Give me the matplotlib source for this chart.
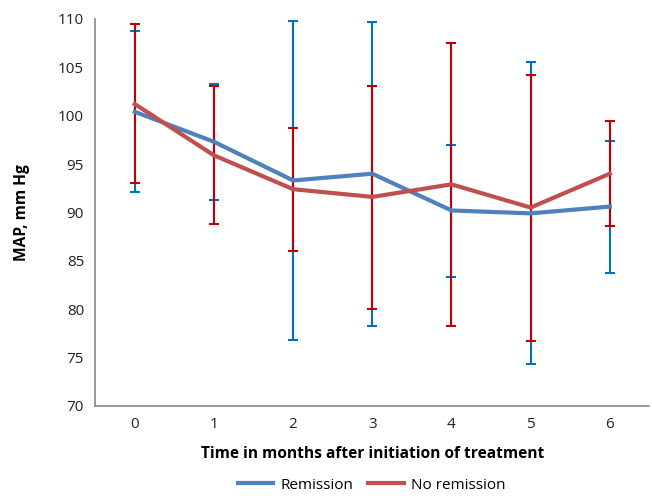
import numpy as np
import matplotlib
matplotlib.use('Agg')
import matplotlib.pyplot as plt

plt.rcParams['font.family'] = ['Open Sans', 'DejaVu Sans']

# months after start of treatment
months = [0, 1, 2, 3, 4, 5, 6]

# mean MAP and error bar ends
rem_mean = [100.4, 97.3, 93.3, 94.0, 90.2, 89.9, 90.6]
rem_top = [108.7, 103.3, 109.8, 109.7, 97.0, 105.5, 97.4]
rem_bot = [92.1, 91.3, 76.8, 78.3, 83.3, 74.3, 83.7]

norem_mean = [101.2, 95.9, 92.4, 91.6, 92.9, 90.5, 94.0]
norem_top = [109.5, 103.1, 98.7, 103.1, 107.5, 104.2, 99.4]
norem_bot = [93.0, 88.8, 86.0, 80.0, 78.3, 76.7, 88.6]

fig = plt.figure(figsize=(6.52, 4.98), dpi=100)
ax = fig.add_axes([0.146, 0.185, 0.85, 0.777])

x = np.array(months)
rm = np.array(rem_mean)
nm = np.array(norem_mean)

# error bars first, lines on top
ax.errorbar(x, rm, yerr=[rm - np.array(rem_bot), np.array(rem_top) - rm],
            fmt='none', ecolor='#0070C0', elinewidth=1.5, capsize=3.5, capthick=1.5, zorder=2)
ax.errorbar(x, nm, yerr=[nm - np.array(norem_bot), np.array(norem_top) - nm],
            fmt='none', ecolor='#C00000', elinewidth=1.5, capsize=3.5, capthick=1.5, zorder=3)
ax.plot(x, rm, color='#4F81BD', lw=3, label='Remission', zorder=4)
ax.plot(x, nm, color='#C0504D', lw=3, label='No remission', zorder=5)

ax.set_xlim(-0.5, 6.5)
ax.set_ylim(70, 110)
ax.set_yticks(range(70, 111, 5))
ax.set_xticks(months)
ax.tick_params(axis='both', length=0, labelsize=11, colors='#222222', pad=8)

for s in ['top', 'right']:
    ax.spines[s].set_visible(False)
for s in ['left', 'bottom']:
    ax.spines[s].set_color('#888888')
    ax.spines[s].set_linewidth(1.2)

ax.set_xlabel('Time in months after initiation of treatment', fontsize=11.2,
              fontweight='bold', labelpad=10)
ax.set_ylabel('MAP, mm Hg', fontsize=11.2, fontweight='bold', labelpad=20)

fig.legend(loc='lower center', bbox_to_anchor=(0.57, -0.017), ncol=2, frameon=False,
           fontsize=11, handlelength=2.3, columnspacing=1.0, handletextpad=0.5)

plt.savefig('out.png', dpi=100)
